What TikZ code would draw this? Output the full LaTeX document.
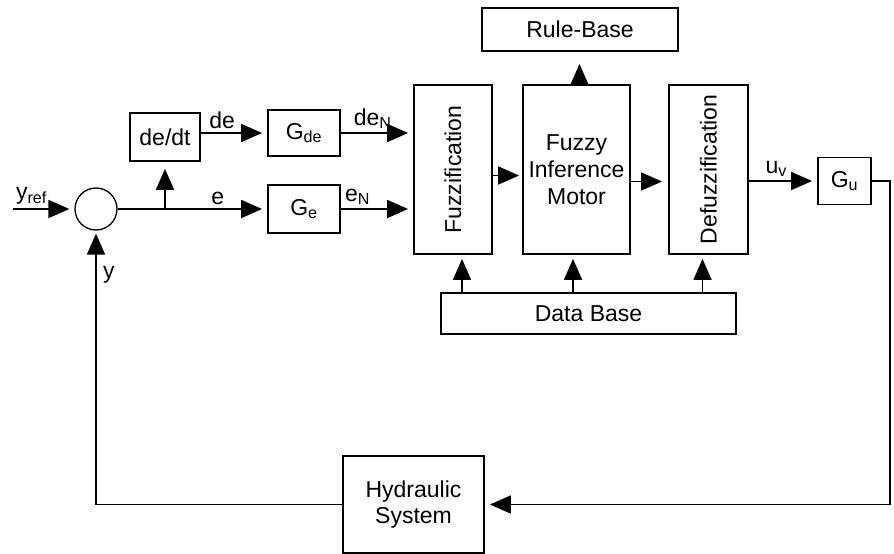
\documentclass[tikz,border=0pt]{standalone}
\usepackage{fontspec}
\setmainfont{Liberation Sans}
\usetikzlibrary{arrows.meta}
\newcommand{\diagfont}{\fontsize{23}{26.7}\selectfont}

\begin{document}
\begin{tikzpicture}[
        x=1pt, y=-1pt,
        font=\diagfont,
        block/.style={draw, rectangle, line width=1.8pt, inner sep=0pt, align=center},
        summer/.style={draw, circle, line width=1.3pt, minimum size=42pt, inner sep=0pt},
        arrow/.style={-{Triangle[length=21pt, width=18pt]}, line width=1.8pt, shorten >=5pt}
    ]
    \useasboundingbox (0,0) rectangle (894,554);

    \node[summer] (Sum) at (96,209) {};
    \node[block, minimum width=70pt, minimum height=48pt] (Deriv) at (165,137) {de/dt};
    \node[block, minimum width=72pt, minimum height=46pt] (Gde) at (304,133) {G\textsubscript{de}};
    \node[block, minimum width=72pt, minimum height=48pt] (Ge) at (304,209) {G\textsubscript{e}};

    \node[block, minimum width=78pt, minimum height=169pt,
          label={[rotate=90]center:Fuzzification}] (Fuzz) at (453,169.5) {};
    \node[block, minimum width=107pt, minimum height=169pt] (Infer) at (576.5,169.5) {Fuzzy\\Inference\\Motor};
    \node[block, minimum width=79pt, minimum height=169pt,
          label={[rotate=90]center:Defuzzification}] (Defuzz) at (708.5,169.5) {};

    \node[block, minimum width=196pt, minimum height=43pt] (RuleBase) at (580,29.5) {Rule-Base};
    \node[block, minimum width=295pt, minimum height=41pt] (DataBase) at (588.5,313.5) {Data Base};
    \node[block, minimum width=53pt, minimum height=47pt] (Gu) at (844.5,181) {G\textsubscript{u}};
    \node[block, minimum width=141pt, minimum height=97pt] (Hydraulic) at (413.5,504.5) {Hydraulic\\System};

    \coordinate (Ref) at (13,209);
    \coordinate (Turn) at (890,0);

    \draw[arrow] (Ref) -- node[above, pos=0.3] {y\textsubscript{ref}} (Sum.west);
    \draw[arrow] (Sum.east) -- node[above, pos=0.67] {e} (Ge.west);
    \draw[arrow, shorten >=7pt] (Deriv.south |- Sum.east) -- (Deriv.south);
    \draw[arrow] (Deriv.east |- Gde.west) -- node[above, pos=0.32] {de} (Gde.west);
    \draw[arrow] (Gde.east) -- node[above, pos=0.44] {de\textsubscript{N}} (Gde.east -| Fuzz.west);
    \draw[arrow] (Ge.east) -- node[above, pos=0.23] {e\textsubscript{N}} (Ge.east -| Fuzz.west);

    \draw[arrow, shorten >=3pt] ([yshift=-6pt]Fuzz.east) -- ([yshift=-6pt]Fuzz.east -| Infer.west);
    \draw[arrow, shorten >=6pt] ([yshift=-12pt]Infer.east) -- ([yshift=-12pt]Infer.east -| Defuzz.west);
    \draw[arrow, shorten >=12pt] ([xshift=3pt]Infer.north) -- ([xshift=3pt]Infer.north |- RuleBase.south);
    \foreach \blk/\dx in {Fuzz/9, Infer/-3.5, Defuzz/-6}
        \draw[arrow, shorten >=4pt] ([xshift=\dx pt]\blk.south |- DataBase.north) -- ([xshift=\dx pt]\blk.south);

    \draw[arrow] (Defuzz.east |- Gu.west) -- node[above, pos=0.4] {u\textsubscript{v}} (Gu.west);
    \draw[arrow] (Gu.east) -- (Gu.east -| Turn) |- (Hydraulic.east);
    \draw[arrow, shorten >=3pt] (Hydraulic.west) -| node[right, pos=0.92, xshift=3pt] {y} (Sum.south);

\end{tikzpicture}
\end{document}
